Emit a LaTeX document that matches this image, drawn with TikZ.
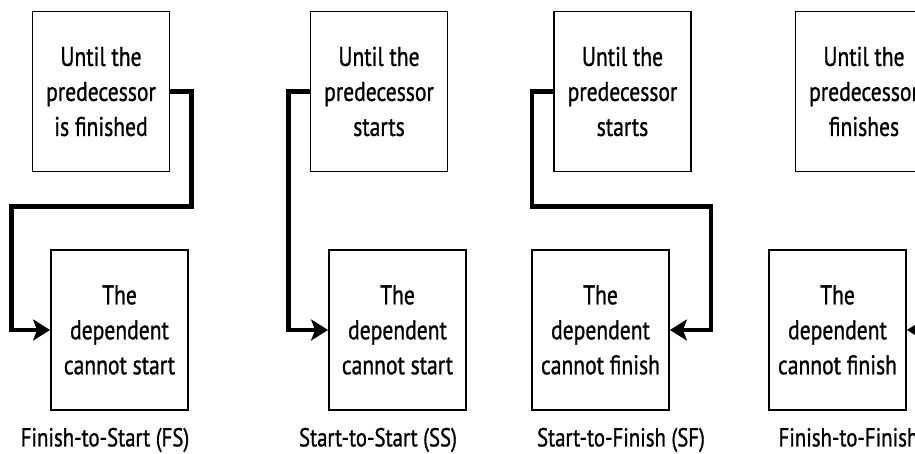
\documentclass[tikz,border=0pt]{standalone}
\usepackage{fontspec}
\setmainfont{PT Sans}[FakeStretch=0.8,FakeBold=1]
\usetikzlibrary{arrows.meta}

\tikzset{
  task/.style={draw, line width=1.8pt, minimum width=137pt, minimum height=160pt,
    inner sep=0pt, align=center, font=\fontsize{27}{35}\selectfont},
  link/.style={line width=4.5pt, -{Stealth[length=17pt,width=21pt,inset=4pt]}},
  caption/.style={font=\fontsize{26}{32}\selectfont}
}

\begin{document}
\begin{tikzpicture}[x=1pt,y=1pt]
  \clip (0,0) rectangle (915,454);
  % predecessors
  \node[task] (fsa) at (101,362.5) {Until the\\predecessor\\is finished};
  \node[task] (ssa) at (379,362.5) {Until the\\predecessor\\starts};
  \node[task] (sfa) at (622.5,362.5) {Until the\\predecessor\\starts};
  \node[task] (ffa) at (864,362.5) {Until the\\predecessor\\finishes};
  % dependents
  \node[task] (fsb) at (119.5,124) {The\\dependent\\cannot start};
  \node[task] (ssb) at (397.5,124) {The\\dependent\\cannot start};
  \node[task] (sfb) at (600.5,124) {The\\dependent\\cannot finish};
  \node[task] (ffb) at (837.5,124) {The\\dependent\\cannot finish};
  % links
  \draw[link] (fsa.east) -- ++(21,0) |- ++(-180,-115) |- (fsb.west);
  \draw[link] (ssa.west) -- ++(-21,0) |- (ssb.west);
  \draw[link] (sfa.west) -- ++(-21,0) |- ++(179,-115) |- (sfb.east);
  \draw[link] (ffa.east) -- ++(21,0) |- (ffb.east);
  % captions
  \node[caption] (fs) at (105,14) {Finish-to-Start (FS)};
  \node[caption] (ss) at (378,14) {Start-to-Start (SS)};
  \node[caption] (sf) at (621,14) {Start-to-Finish (SF)};
  \node[caption, anchor=west] (ff) at (775,14) {Finish-to-Finish (FF)};
\end{tikzpicture}
\end{document}
